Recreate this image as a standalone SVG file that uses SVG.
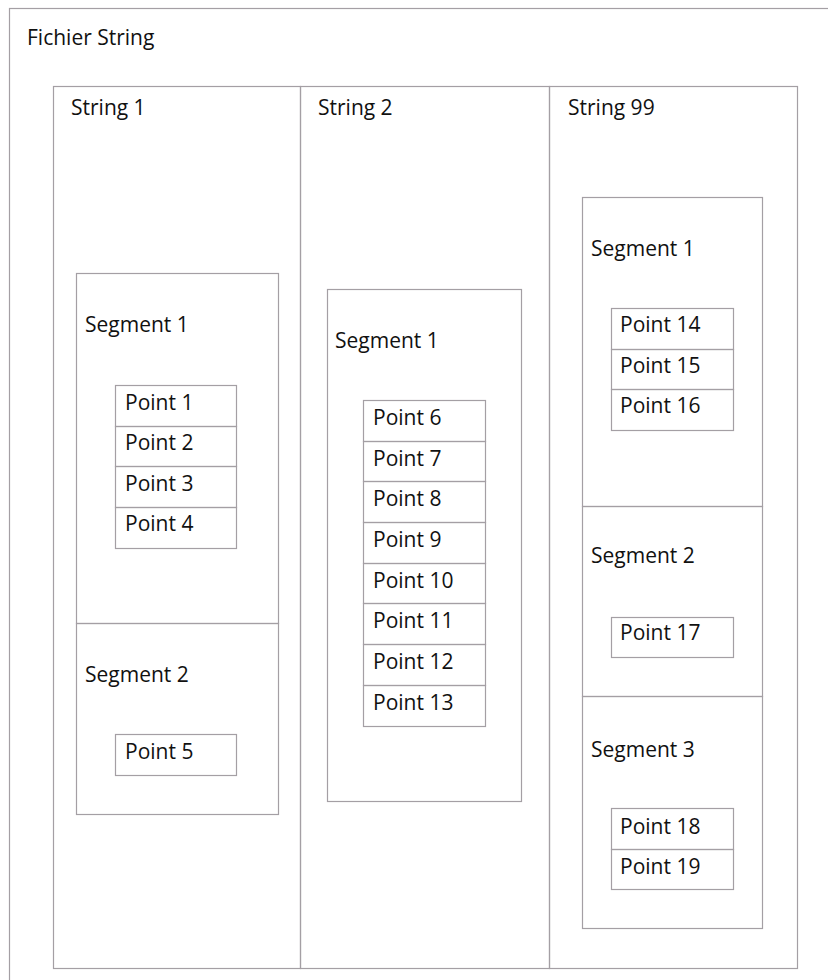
<svg xmlns="http://www.w3.org/2000/svg" width="828" height="980" viewBox="0 0 828 980">
<style>
  .box { fill: none; stroke: #a49fa4; stroke-width: 1.2; }
  .t { font-family: "Open Sans", "Liberation Sans", sans-serif; font-size: 21px; fill: #111; }
</style>
<rect x="0" y="0" width="828" height="980" fill="#ffffff"/>
<g id="fichier">
  <rect class="box" x="9.5" y="8.5" width="830" height="990"/>
  <text class="t" x="27" y="45">Fichier String</text>
</g>
<g id="string1">
  <rect class="box" x="53.5" y="86.5" width="247" height="882"/>
  <text class="t" x="71" y="115">String 1</text>
</g>
<g id="string2">
  <rect class="box" x="300.5" y="86.5" width="249" height="882"/>
  <text class="t" x="318" y="115">String 2</text>
</g>
<g id="string99">
  <rect class="box" x="549.5" y="86.5" width="248" height="882"/>
  <text class="t" x="568" y="115">String 99</text>
</g>
<g id="s1seg1">
  <rect class="box" x="76.5" y="273.5" width="202" height="350"/>
  <text class="t" x="85" y="332">Segment 1</text>
</g>
<g id="s1seg2">
  <rect class="box" x="76.5" y="623.5" width="202" height="191"/>
  <text class="t" x="85" y="682">Segment 2</text>
</g>
<g id="s2seg1">
  <rect class="box" x="327.5" y="289.5" width="194" height="512"/>
  <text class="t" x="335" y="348">Segment 1</text>
</g>
<g id="s99seg1">
  <rect class="box" x="582.5" y="197.5" width="180" height="309"/>
  <text class="t" x="591" y="256">Segment 1</text>
</g>
<g id="s99seg2">
  <rect class="box" x="582.5" y="506.5" width="180" height="190"/>
  <text class="t" x="591" y="563">Segment 2</text>
</g>
<g id="s99seg3">
  <rect class="box" x="582.5" y="696.5" width="180" height="232"/>
  <text class="t" x="591" y="757">Segment 3</text>
</g>
<g id="p1"><rect class="box" x="115.5" y="385.5" width="121" height="41"/><text class="t" x="125" y="410">Point 1</text></g>
<g id="p2"><rect class="box" x="115.5" y="426.5" width="121" height="40"/><text class="t" x="125" y="450">Point 2</text></g>
<g id="p3"><rect class="box" x="115.5" y="466.5" width="121" height="41"/><text class="t" x="125" y="491">Point 3</text></g>
<g id="p4"><rect class="box" x="115.5" y="507.5" width="121" height="41"/><text class="t" x="125" y="531">Point 4</text></g>
<g id="p5"><rect class="box" x="115.5" y="734.5" width="121" height="41"/><text class="t" x="125" y="759">Point 5</text></g>
<g id="p6"><rect class="box" x="363.5" y="400.5" width="122" height="41"/><text class="t" x="373" y="425">Point 6</text></g>
<g id="p7"><rect class="box" x="363.5" y="441.5" width="122" height="40"/><text class="t" x="373" y="466">Point 7</text></g>
<g id="p8"><rect class="box" x="363.5" y="481.5" width="122" height="41"/><text class="t" x="373" y="506">Point 8</text></g>
<g id="p9"><rect class="box" x="363.5" y="522.5" width="122" height="41"/><text class="t" x="373" y="547">Point 9</text></g>
<g id="p10"><rect class="box" x="363.5" y="563.5" width="122" height="40"/><text class="t" x="373" y="588">Point 10</text></g>
<g id="p11"><rect class="box" x="363.5" y="603.5" width="122" height="41"/><text class="t" x="373" y="628">Point 11</text></g>
<g id="p12"><rect class="box" x="363.5" y="644.5" width="122" height="41"/><text class="t" x="373" y="669">Point 12</text></g>
<g id="p13"><rect class="box" x="363.5" y="685.5" width="122" height="41"/><text class="t" x="373" y="710">Point 13</text></g>
<g id="p14"><rect class="box" x="611.5" y="308.5" width="122" height="41"/><text class="t" x="620" y="332">Point 14</text></g>
<g id="p15"><rect class="box" x="611.5" y="349.5" width="122" height="40"/><text class="t" x="620" y="373">Point 15</text></g>
<g id="p16"><rect class="box" x="611.5" y="389.5" width="122" height="41"/><text class="t" x="620" y="413">Point 16</text></g>
<g id="p17"><rect class="box" x="611.5" y="617.5" width="122" height="40"/><text class="t" x="620" y="640">Point 17</text></g>
<g id="p18"><rect class="box" x="611.5" y="808.5" width="122" height="41"/><text class="t" x="620" y="834">Point 18</text></g>
<g id="p19"><rect class="box" x="611.5" y="849.5" width="122" height="40"/><text class="t" x="620" y="874">Point 19</text></g>
<g id="connectors"></g>
</svg>
